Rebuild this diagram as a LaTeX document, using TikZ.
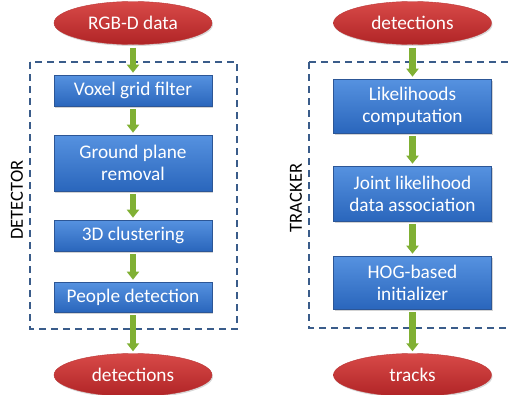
\documentclass[tikz,border=0pt]{standalone}
\usepackage{fontspec}
\setmainfont{Carlito}
\usetikzlibrary{arrows.meta,shadows,shapes.geometric}

\definecolor{boxtop}{RGB}{86,146,224}
\definecolor{boxbot}{RGB}{42,102,188}
\definecolor{boxline}{RGB}{44,86,150}
\definecolor{elltop}{RGB}{216,74,72}
\definecolor{ellbot}{RGB}{176,36,38}
\definecolor{ellline}{RGB}{186,54,54}
\definecolor{arrgreen}{RGB}{128,176,52}
\definecolor{framecol}{RGB}{58,92,138}

\tikzset{
  stage/.style={rectangle, minimum width=158pt, draw=boxline, line width=0.6pt,
    top color=boxtop, bottom color=boxbot, text=white, align=center,
    font=\fontsize{19.3}{22}\selectfont, inner sep=0pt,
    drop shadow={shadow xshift=1.2pt, shadow yshift=-1.8pt, opacity=0.35}},
  terminal/.style={ellipse, minimum width=158pt, minimum height=43pt, inner sep=0pt,
    draw=ellline, line width=0.4pt, top color=elltop, bottom color=ellbot,
    text=white, font=\fontsize{19.3}{22}\selectfont,
    drop shadow={shadow xshift=1pt, shadow yshift=-1.5pt, opacity=0.3}},
  flow/.style={draw=arrgreen, line width=6.5pt,
    -{Triangle[width=12pt,length=8pt]}, shorten <=3pt, shorten >=2pt},
  frame/.style={draw=framecol, line width=1.6pt, dash pattern=on 7pt off 5pt},
  sidelabel/.style={rotate=90, font=\fontsize{18.5}{21.5}\selectfont, text=black}
}

\begin{document}
\begin{tikzpicture}[x=1pt, y=-1pt]
  \useasboundingbox (0,0) rectangle (511,394);
  \clip (0,0) rectangle (511,394);

  % detector pipeline
  \draw[frame] (30,62) rectangle (237,329);
  \node[sidelabel] (detlabel) at (17,200) {DETECTOR};

  \node[terminal] (rgb) at (133,23) {RGB-D data};
  \node[stage, minimum height=31pt] (voxel) at (133,90.5) {Voxel grid filter};
  \node[stage, minimum height=56pt] (ground) at (133,163) {Ground plane\\removal};
  \node[stage, minimum height=31pt] (cluster) at (133,235.5) {3D clustering};
  \node[stage, minimum height=30pt] (people) at (133,297) {People detection};
  \node[terminal] (detout) at (133,375) {detections};

  \draw[flow] (rgb) -- (voxel);
  \draw[flow] (voxel) -- (ground);
  \draw[flow] (ground) -- (cluster);
  \draw[flow] (cluster) -- (people);
  \draw[flow] (people) -- (detout);

  % tracker pipeline
  \draw[frame] (309,62) -- (530,62) (309,62) -- (309,328) -- (530,328);
  \node[sidelabel] (trklabel) at (296,198) {TRACKER};

  \node[terminal] (detin) at (412.5,23) {detections};
  \node[stage, minimum height=54pt] (lik) at (412.5,106) {Likelihoods\\computation};
  \node[stage, minimum height=55pt] (joint) at (412.5,193.5) {Joint likelihood\\data association};
  \node[stage, minimum height=53pt] (hog) at (412.5,282.5) {HOG-based\\initializer};
  \node[terminal] (tracks) at (412.5,375) {tracks};

  \draw[flow] (detin) -- (lik);
  \draw[flow] (lik) -- (joint);
  \draw[flow] (joint) -- (hog);
  \draw[flow] (hog) -- (tracks);
\end{tikzpicture}
\end{document}
